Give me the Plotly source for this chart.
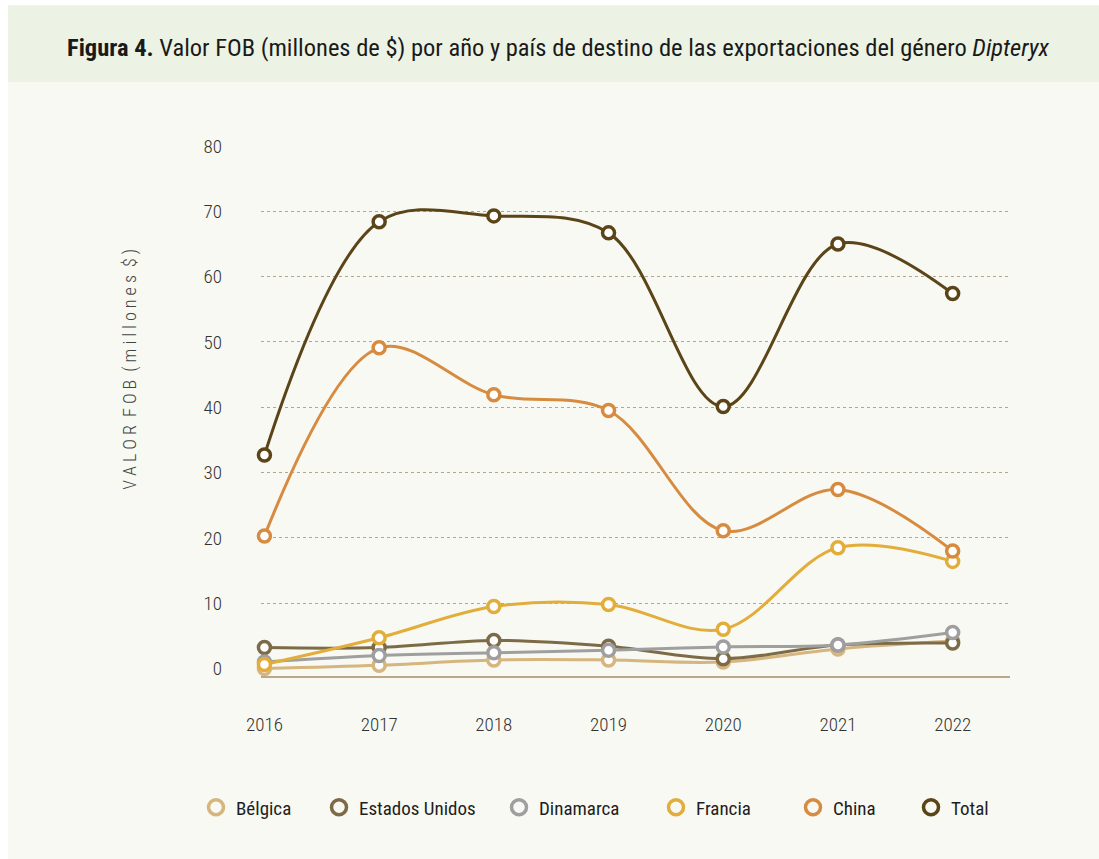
import plotly.graph_objects as go

years = [2016, 2017, 2018, 2019, 2020, 2021, 2022]
belgica = [0.0, 0.5, 1.3, 1.3, 1.0, 3.0, 4.2]
estados_unidos = [3.2, 3.2, 4.3, 3.4, 1.5, 3.6, 3.9]
dinamarca = [1.0, 2.0, 2.4, 2.8, 3.3, 3.6, 5.5]
francia = [0.6, 4.7, 9.5, 9.8, 6.0, 18.5, 16.4]
china = [20.3, 49.1, 41.9, 39.5, 21.1, 27.4, 18.0]
total = [32.7, 68.4, 69.3, 66.7, 40.1, 65.0, 57.4]

series_names = ["Bélgica", "Estados Unidos", "Dinamarca", "Francia", "China", "Total"]
series_values = [belgica, estados_unidos, dinamarca, francia, china, total]
series_colors = ["#d6b57e", "#7d6b47", "#9f9f9f", "#e2ad3b", "#d78b40", "#5b4418"]
y_ticks = [0, 10, 20, 30, 40, 50, 60, 70, 80]

FONT = "Roboto Condensed, Liberation Sans Narrow, Roboto, sans-serif"
W, H = 1099, 859
L, R, T, B = 261, 89, 146, 182.5
pw, ph = W - L - R, H - T - B


def px_x(px):
    return (px - L) / pw


def px_y(py):
    return (H - B - py) / ph


fig = go.Figure()
for name, vals, col in zip(series_names, series_values, series_colors):
    fig.add_trace(go.Scatter(
        x=years, y=vals, mode="lines+markers", name=name, showlegend=False,
        line=dict(color=col, width=3, shape="spline", smoothing=1.0),
        marker=dict(symbol="circle", size=12, color="#ffffff",
                    line=dict(color=col, width=3.5)),
        cliponaxis=False,
    ))

legend_centers = [217, 340, 520, 677, 814, 932]
legends = {}
for i, (name, col, cx) in enumerate(zip(series_names, series_colors, legend_centers)):
    key = "legend" if i == 0 else f"legend{i + 1}"
    fig.add_trace(go.Scatter(
        x=[None], y=[None], mode="markers", name=name, showlegend=True,
        legend=key,
        marker=dict(symbol="circle-open", size=15, color=col,
                    line=dict(color=col, width=3.5)),
    ))
    legends[key] = dict(
        x=px_x(cx - 21), xanchor="left", y=px_y(808), yanchor="middle",
        orientation="h", font=dict(size=19, color="#1e1e1e", weight=400),
        bgcolor="rgba(0,0,0,0)", borderwidth=0, itemsizing="trace",
    )

shapes = [
    dict(type="rect", xref="paper", yref="paper", layer="below",
         x0=px_x(8), x1=px_x(1110), y0=px_y(870), y1=px_y(5),
         fillcolor="#f7f9f2", line=dict(width=0)),
    dict(type="rect", xref="paper", yref="paper", layer="below",
         x0=px_x(8), x1=px_x(1110), y0=px_y(82), y1=px_y(5),
         fillcolor="#ecf3e5", line=dict(width=0)),
]

fig.update_layout(
    width=W, height=H,
    margin=dict(l=L, r=R, t=T, b=B),
    paper_bgcolor="#ffffff",
    plot_bgcolor="rgba(0,0,0,0)",
    font=dict(family=FONT, color="#333333", size=19),
    shapes=shapes,
    showlegend=True,
    xaxis=dict(range=[2015.97, 2022.5], tickvals=years, ticktext=[str(y) for y in years],
               showgrid=False, zeroline=False, showline=True, linecolor="#bba88a",
               linewidth=1.5, ticks="", ticklabelstandoff=30,
               tickfont=dict(size=19, color="#333333", weight=300)),
    yaxis=dict(range=[-1.15, 80], tickvals=y_ticks, showgrid=False,
               zeroline=False, showline=False, ticks="",
               minor=dict(tickvals=y_ticks[1:], showgrid=True, gridcolor="#b3a58f",
                          griddash="dot", gridwidth=1, ticks=""),
               ticklabelstandoff=38, tickfont=dict(size=19, color="#333333", weight=300)),
    annotations=[
        dict(text="<b>Figura 4.</b> Valor FOB (millones de $) por año y país de destino de las exportaciones del género <i>Dipteryx</i>",
             xref="paper", yref="paper", x=px_x(558), y=px_y(47), showarrow=False,
             xanchor="center", yanchor="middle", font=dict(size=24.5, color="#1a1a1a")),
        dict(text="V A L O R  F O B  ( m i l l o n e s  $ )",
             xref="paper", yref="paper", x=px_x(130), y=px_y(370), showarrow=False,
             textangle=-90, xanchor="center", yanchor="middle",
             font=dict(size=18, color="#444444", weight=300)),
    ],
    **legends,
)

fig.write_html("out.html", config={"displayModeBar": False},
               post_script="document.body.style.margin='0px';")
